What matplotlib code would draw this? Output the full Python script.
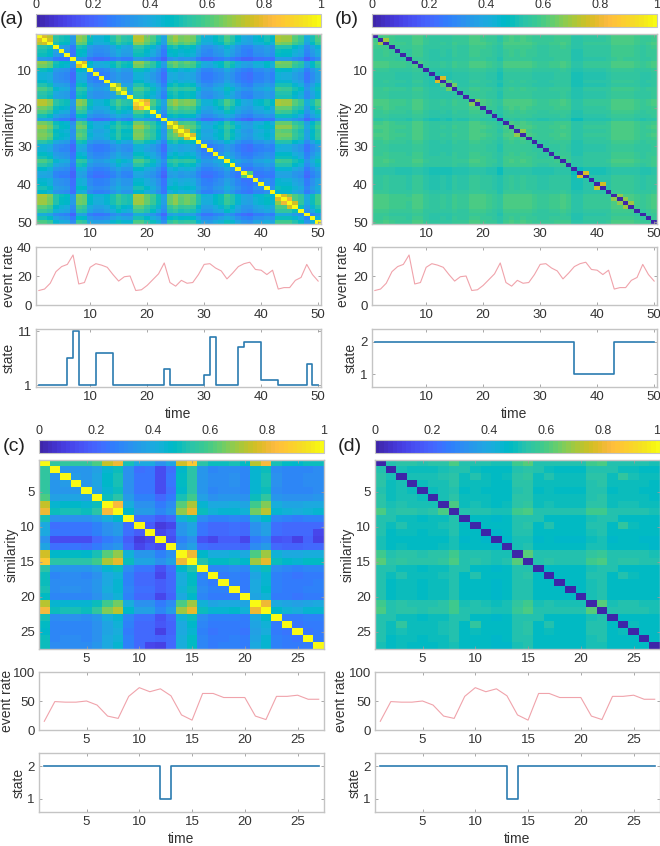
import numpy as np
import matplotlib
matplotlib.use("Agg")
import matplotlib.pyplot as plt
from matplotlib.colors import ListedColormap

plt.rcParams['font.family'] = ['Liberation Sans', 'DejaVu Sans']

W, H = 660, 846

# parula colour table
parula = ListedColormap([
    [0.2422, 0.1504, 0.6603], [0.2504, 0.1650, 0.7076], [0.2578, 0.1818, 0.7511], [0.2647, 0.1978, 0.7952],
    [0.2706, 0.2147, 0.8364], [0.2751, 0.2342, 0.8710], [0.2783, 0.2559, 0.8991], [0.2803, 0.2782, 0.9221],
    [0.2813, 0.3006, 0.9414], [0.2810, 0.3228, 0.9579], [0.2795, 0.3447, 0.9717], [0.2760, 0.3667, 0.9829],
    [0.2699, 0.3892, 0.9906], [0.2602, 0.4123, 0.9952], [0.2440, 0.4358, 0.9988], [0.2206, 0.4603, 0.9973],
    [0.1963, 0.4847, 0.9892], [0.1834, 0.5074, 0.9798], [0.1786, 0.5289, 0.9682], [0.1764, 0.5499, 0.9520],
    [0.1687, 0.5703, 0.9359], [0.1540, 0.5902, 0.9218], [0.1460, 0.6091, 0.9079], [0.1380, 0.6276, 0.8973],
    [0.1248, 0.6459, 0.8883], [0.1113, 0.6635, 0.8763], [0.0952, 0.6798, 0.8598], [0.0689, 0.6948, 0.8394],
    [0.0297, 0.7082, 0.8163], [0.0036, 0.7203, 0.7917], [0.0067, 0.7312, 0.7660], [0.0433, 0.7411, 0.7394],
    [0.0964, 0.7500, 0.7120], [0.1408, 0.7584, 0.6842], [0.1717, 0.7670, 0.6554], [0.1938, 0.7758, 0.6251],
    [0.2161, 0.7843, 0.5923], [0.2470, 0.7918, 0.5567], [0.2906, 0.7973, 0.5188], [0.3406, 0.8008, 0.4789],
    [0.3909, 0.8029, 0.4354], [0.4456, 0.8024, 0.3909], [0.5044, 0.7993, 0.3480], [0.5616, 0.7942, 0.3045],
    [0.6174, 0.7876, 0.2612], [0.6720, 0.7793, 0.2227], [0.7242, 0.7698, 0.1910], [0.7738, 0.7598, 0.1646],
    [0.8203, 0.7498, 0.1535], [0.8634, 0.7406, 0.1596], [0.9035, 0.7330, 0.1774], [0.9393, 0.7288, 0.2100],
    [0.9728, 0.7298, 0.2394], [0.9956, 0.7434, 0.2371], [0.9970, 0.7659, 0.2199], [0.9952, 0.7861, 0.1991],
    [0.9892, 0.8081, 0.1839], [0.9786, 0.8292, 0.1697], [0.9676, 0.8513, 0.1550], [0.9610, 0.8745, 0.1360],
    [0.9597, 0.8998, 0.1161], [0.9628, 0.9260, 0.0973], [0.9691, 0.9551, 0.0752], [0.9769, 0.9839, 0.0805]])

# event rate
rate_50 = [10, 11, 15, 23, 26.5, 28, 34.5, 14.5, 15.5, 26, 28.5, 27.5, 26, 21, 16.5, 19.5, 20, 10, 10.5, 13.5,
           17.5, 21.5, 29, 15.5, 13, 17, 15, 15.5, 21, 28, 28.5, 25.5, 23.5, 18, 22, 26.5, 28.5, 29.5, 24.5, 24,
           21, 24, 11, 12, 12, 17, 19, 28, 21, 16.5]
rate_27 = [15, 49, 48, 48, 50, 43, 24, 20, 58, 73, 66, 71, 59, 26, 17, 63, 63, 56, 56, 56, 24, 18, 58, 58, 60,
           53, 53]

# state sequences
state_a = [1, 1, 1, 1, 1, 6, 11, 1, 1, 1, 7, 7, 7, 1, 1, 1, 1, 1, 1, 1, 1, 1, 4, 1, 1, 1, 1, 1, 1, 3, 10, 1, 1,
           1, 1, 8, 9, 9, 9, 2, 2, 2, 1, 1, 1, 1, 1, 5, 1, 1]
state_b = [2] * 35 + [1] * 7 + [2] * 8
state_c = [2] * 11 + [1] + [2] * 15
state_d = [2] * 12 + [1] + [2] * 14

# brightness of each row/column in the similarity maps
levels_a = [.85, .85, .80, .63, .59, .57, .42, .80, .77, .57, .51, .51, .54, .62, .70, .63, .62, .85, .85, .77,
            .70, .60, .45, .77, .82, .76, .79, .76, .63, .51, .50, .56, .60, .70, .63, .54, .47, .45, .53, .54,
            .59, .54, .83, .82, .82, .73, .67, .48, .60, .71]
levels_b = [.77, .77, .775, .76, .75, .75, .745, .775, .775, .74, .72, .72, .73, .72, .75, .74, .74, .775, .775,
            .77, .75, .74, .71, .77, .775, .77, .775, .77, .75, .74, .74, .75, .76, .77, .76, .70, .70, .73, .73,
            .73, .73, .74, .775, .78, .775, .775, .76, .74, .75, .77]
levels_c = [.95, .58, .59, .59, .58, .64, .78, .85, .54, .42, .42, .34, .40, .80, .92, .57, .51, .52, .53, .50,
            .76, .86, .53, .50, .49, .51, .52]
levels_d = [.75, .70, .72, .71, .70, .71, .72, .75, .69, .70, .69, .67, .68, .75, .76, .69, .70, .69, .69, .69,
            .74, .75, .69, .70, .70, .69, .68]

# cells that stand out from their row and column: (row, col, value)
cells_a = [(1, 2, .78), (2, 3, .76), (1, 3, .72), (8, 9, .78), (14, 15, .70), (15, 16, .66), (18, 19, .88),
           (18, 20, .78), (19, 20, .82), (24, 25, .72), (25, 26, .73), (26, 27, .75), (27, 28, .78),
           (43, 44, .78), (44, 45, .80), (45, 46, .76), (37, 38, .60)]
cells_b = [(2, 3, .70), (12, 13, .78), (13, 14, .62), (14, 15, .65), (18, 19, .66), (26, 27, .68), (37, 38, .78),
           (40, 41, .76), (43, 44, .68), (44, 45, .68), (45, 46, .70)]
cells_c = [(7, 8, .82), (14, 15, .80), (21, 22, .80), (3, 12, .15), (4, 12, .13), (2, 10, .22), (9, 10, .22),
           (10, 12, .08), (10, 13, .12), (11, 12, .12), (2, 12, .14), (12, 3, .14), (12, 4, .13), (12, 5, .14),
           (12, 16, .12), (12, 17, .12), (12, 18, .14), (12, 20, .12), (12, 25, .10), (12, 27, .13), (12, 23, .15),
           (16, 12, .15), (18, 12, .18), (26, 12, .20), (27, 11, .12), (27, 12, .10)]
cells_d = [(7, 8, .60), (14, 15, .62), (21, 22, .62), (3, 10, .53), (3, 17, .53), (3, 24, .55), (10, 17, .53),
           (10, 24, .55), (17, 24, .53), (2, 9, .52), (2, 16, .52), (2, 23, .53), (9, 16, .52), (9, 23, .52),
           (16, 23, .52), (1, 15, .62), (1, 8, .60), (1, 14, .58), (8, 15, .60), (1, 21, .58), (1, 22, .60),
           (8, 22, .58), (15, 22, .60), (8, 21, .58), (15, 21, .58), (8, 14, .58)]

diag_a, diag_b, diag_c, diag_d = 1, 0, 1, 0

cbar_ticks = [0, 0.2, 0.4, 0.6, 0.8, 1]
cbar_labels = ['0', '0.2', '0.4', '0.6', '0.8', '1']

GREY = '#c4c4c4'
TXT = '#333333'


def add_ax(fig, x0, x1, y0, y1):
    # pixel box, y counted from the top
    return fig.add_axes([x0 / W, 1 - y1 / H, (x1 - x0) / W, (y1 - y0) / H])


def style(ax, size=9.5):
    for s in ax.spines.values():
        s.set_color(GREY)
        s.set_linewidth(1.0)
    ax.tick_params(direction='in', length=2.5, width=0.6, color='#999999', labelcolor=TXT,
                   labelsize=size, pad=3, top=True, right=True)


def sim_matrix(levels, cells, diag):
    m = np.outer(levels, levels)
    for r, c, v in cells:
        m[r - 1, c - 1] = v
        m[c - 1, r - 1] = v
    np.fill_diagonal(m, diag)
    return m


def ylab(fig, text, x, y):
    fig.text(x / W, 1 - y / H, text, rotation=90, ha='center', va='center', fontsize=10, color=TXT)


def panel(fig, name, x0, tops, lab_x, levels, cells, diag, rate, state, x_ticks, rate_ticks, state_ticks):
    x1 = x0 + 285
    n = len(rate)
    t = np.arange(1, n + 1)

    cb_top, map_top, map_bot, r_top, r_bot, s_top, s_bot = tops
    m = sim_matrix(levels, cells, diag)
    ax = add_ax(fig, x0, x1, map_top, map_bot)
    im = ax.imshow(m, cmap=parula, vmin=0, vmax=1, aspect='auto', interpolation='nearest',
                   extent=(0.5, n + 0.5, n + 0.5, 0.5))
    ax.set_xticks(x_ticks)
    ax.set_yticks(x_ticks)
    style(ax)

    # colorbar
    cax = add_ax(fig, x0, x1, cb_top, cb_top + 13)
    cb = fig.colorbar(im, cax=cax, orientation='horizontal')
    cb.set_ticks(cbar_ticks)
    cb.set_ticklabels(cbar_labels)
    cax.xaxis.set_ticks_position('top')
    cax.tick_params(length=0, labelsize=9, labelcolor=TXT, pad=2.5)
    cb.outline.set_edgecolor(GREY)
    cb.outline.set_linewidth(0.8)
    if x1 >= W:
        # last label would run off the figure
        cax.get_xticklabels()[-1].set_ha('right')

    # event rate
    ax = add_ax(fig, x0, x1, r_top, r_bot)
    ax.plot(t, rate, color='#f0a3ab', lw=0.8)
    ax.set_xlim(0.5, n + 0.5)
    ax.set_ylim(rate_ticks[0], rate_ticks[-1])
    ax.set_xticks(x_ticks)
    ax.set_yticks(rate_ticks)
    style(ax)

    # state
    ax = add_ax(fig, x0, x1, s_top, s_bot)
    ax.step(t, state, where='post', color='#2b7bb0', lw=1.2)
    ax.set_xlim(0.5, n + 0.5)
    if state_ticks[-1] == 2:
        ax.set_ylim(0.6, 2.4)
    else:
        ax.set_ylim(0.7, 11.4)
    ax.set_xticks(x_ticks)
    ax.set_yticks(state_ticks)
    style(ax)

    ylab(fig, 'similarity', lab_x[0], (map_top + map_bot) / 2)
    ylab(fig, 'event rate', lab_x[1], (r_top + r_bot) / 2)
    ylab(fig, 'state', lab_x[2], (s_top + s_bot) / 2)
    fig.text((x0 + x1) / 2 / W, 1 - (s_bot + 27) / H, 'time', ha='center', va='center', fontsize=10, color=TXT)
    fig.text((x0 - 36 if x0 < 100 else x0 - 37) / W, 1 - (cb_top + 6) / H, name, ha='left', va='center',
             fontsize=14, color='#222222')


fig = plt.figure(figsize=(W / 100, H / 100), dpi=100)

top_row = (14, 34, 224, 247, 305, 329, 387)
bot_row = (440, 460, 649, 672, 730, 753, 812)

panel(fig, '(a)', 36, top_row, (10, 9, 9), levels_a, cells_a, diag_a, rate_50, state_a,
      [10, 20, 30, 40, 50], [0, 20, 40], [1, 11])
panel(fig, '(b)', 372, top_row, (345, 343, 351), levels_b, cells_b, diag_b, rate_50, state_b,
      [10, 20, 30, 40, 50], [0, 20, 40], [1, 2])
panel(fig, '(c)', 39, bot_row, (12, 7, 19), levels_c, cells_c, diag_c, rate_27, state_c,
      [5, 10, 15, 20, 25], [0, 50, 100], [1, 2])
panel(fig, '(d)', 375, bot_row, (348, 341, 355), levels_d, cells_d, diag_d, rate_27, state_d,
      [5, 10, 15, 20, 25], [0, 50, 100], [1, 2])

fig.savefig('out.png', dpi=100)
